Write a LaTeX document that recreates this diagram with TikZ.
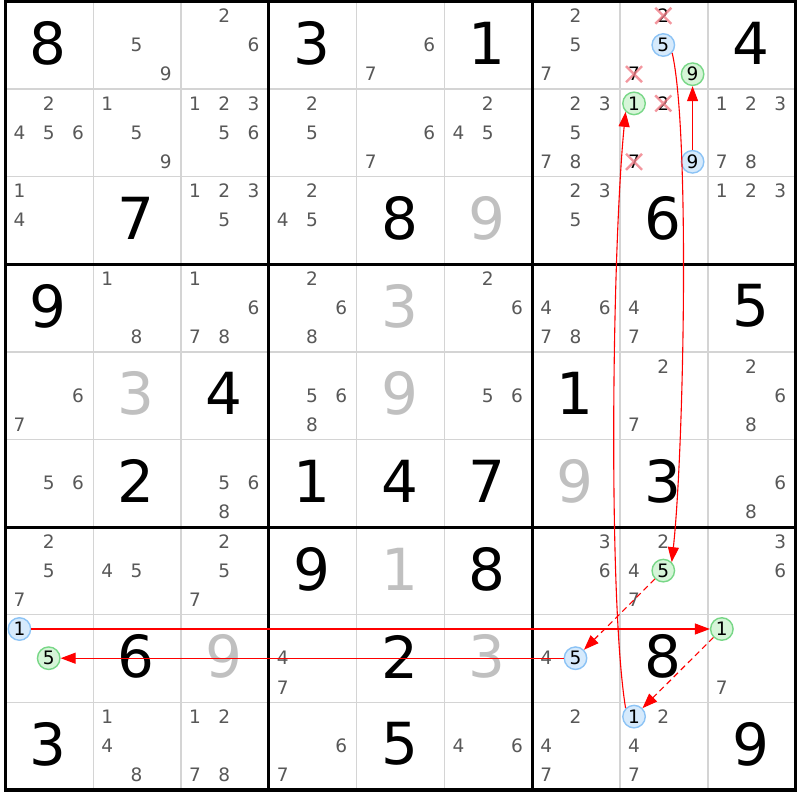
\documentclass[tikz,border=0pt]{standalone}
\usepackage{fontspec}
\setmainfont{DejaVu Sans}
\usetikzlibrary{arrows.meta}
\definecolor{candgray}{RGB}{88,88,88}
\definecolor{givgray}{RGB}{192,192,192}
\definecolor{thingray}{RGB}{212,212,212}
\definecolor{bfill}{RGB}{214,234,252}
\definecolor{bdraw}{RGB}{140,195,245}
\definecolor{gfill}{RGB}{214,245,216}
\definecolor{gdraw}{RGB}{120,215,135}
\definecolor{xred}{RGB}{240,125,135}
\def\GX{5.5}\def\GY{1.5}\def\GW{87.8}\def\GH{87.6}
\newcommand\candxy[3]{%
  \pgfmathtruncatemacro\ci{mod(#3-1,3)}%
  \pgfmathtruncatemacro\cj{(#3-1)/3}%
  \pgfmathsetmacro\px{\GX+(#2-1)*\GW+(\ci+0.5)*\GW/3-0.7}%
  \pgfmathsetmacro\py{\GY+(#1-1)*\GH+(\cj+0.5)*\GH/3-0.3}%
}
\tikzset{
  bigdigit/.style={inner sep=0pt, font=\fontsize{58}{58}\selectfont},
  cand/.style={inner sep=0pt, text=candgray, font=\fontsize{18.5}{18.5}\selectfont},
  bluec/.style={circle, draw=bdraw, fill=bfill, line width=1.4pt, minimum size=22.5pt, inner sep=0pt, text=black, font=\fontsize{18.5}{18.5}\selectfont},
  greenc/.style={circle, draw=gdraw, fill=gfill, line width=1.4pt, minimum size=22.5pt, inner sep=0pt, text=black, font=\fontsize{18.5}{18.5}\selectfont},
  xmark/.style={draw=xred, line width=2.4pt, opacity=0.8},
  arr/.style={draw=red, line width=1.1pt, -{Triangle[length=15pt,width=11pt]}},
  darr/.style={arr, dash pattern=on 6pt off 4pt},
  thinline/.style={draw=thingray, line width=1.4pt},
  thickline/.style={draw=black, line width=3pt}
}
\begin{document}
\begin{tikzpicture}[x=1pt,y=-1pt]
\useasboundingbox (0,0) rectangle (800,800);
\fill[white] (0,0) rectangle (800,800);
% thin grid
\foreach \k in {1,2,4,5,7,8}{
  \draw[thinline] ({\GX+\k*\GW},\GY) -- ({\GX+\k*\GW},{\GY+9*\GH});
  \draw[thinline] (\GX,{\GY+\k*\GH}) -- ({\GX+9*\GW},{\GY+\k*\GH});
}
\foreach \k in {3,6}{
  \draw[thickline] ({\GX+\k*\GW},\GY) -- ({\GX+\k*\GW},{\GY+9*\GH});
  \draw[thickline] (\GX,{\GY+\k*\GH}) -- ({\GX+9*\GW},{\GY+\k*\GH});
}
\draw[thickline, line width=3.5pt] (\GX,\GY) rectangle ({\GX+9*\GW},{\GY+9*\GH});
% big digits
\foreach \r/\c/\d/\col in {1/1/8/black,1/4/3/black,1/6/1/black,1/9/4/black,
  3/2/7/black,3/5/8/black,3/6/9/givgray,3/8/6/black,
  4/1/9/black,4/5/3/givgray,4/9/5/black,
  5/2/3/givgray,5/3/4/black,5/5/9/givgray,5/7/1/black,
  6/2/2/black,6/4/1/black,6/5/4/black,6/6/7/black,6/7/9/givgray,6/8/3/black,
  7/4/9/black,7/5/1/givgray,7/6/8/black,
  8/2/6/black,8/3/9/givgray,8/5/2/black,8/6/3/givgray,8/8/8/black,
  9/1/3/black,9/5/5/black,9/9/9/black}{
  \pgfmathsetmacro\px{\GX+(\c-0.5)*\GW-1}
  \pgfmathsetmacro\py{\GY+(\r-0.5)*\GH-2}
  \node[bigdigit, text=\col] (g\r\c) at (\px,\py) {\d};
}
% candidates
\foreach \r/\c/\ds in {1/2/{5,9},1/3/{2,6},1/5/{6,7},1/7/{2,5,7},
  2/1/{2,4,5,6},2/2/{1,5,9},2/3/{1,2,3,5,6},2/4/{2,5},2/5/{6,7},2/6/{2,4,5},2/7/{2,3,5,7,8},2/9/{1,2,3,7,8},
  3/1/{1,4},3/3/{1,2,3,5},3/4/{2,4,5},3/7/{2,3,5},3/9/{1,2,3},
  4/2/{1,8},4/3/{1,6,7,8},4/4/{2,6,8},4/6/{2,6},4/7/{4,6,7,8},4/8/{4,7},
  5/1/{6,7},5/4/{5,6,8},5/6/{5,6},5/8/{2,7},5/9/{2,6,8},
  6/1/{5,6},6/3/{5,6,8},6/9/{6,8},
  7/1/{2,5,7},7/2/{4,5},7/3/{2,5,7},7/7/{3,6},7/8/{2,4,7},7/9/{3,6},
  8/4/{4,7},8/7/{4},8/9/{7},
  9/2/{1,4,8},9/3/{1,2,7,8},9/4/{6,7},9/6/{4,6},9/7/{2,4,7},9/8/{2,4,7}}{
  \foreach \d in \ds {
    \candxy{\r}{\c}{\d}
    \node[cand] (c\r\c\d) at (\px,\py) {\d};
  }
}
% eliminated candidates
\foreach \r/\c/\d in {1/8/2,1/8/7,2/8/2,2/8/7}{
  \candxy{\r}{\c}{\d}
  \node[cand, text=black] (x\r\c\d) at (\px,\py) {\d};
  \draw[xmark] (x\r\c\d.center) ++(-8,-8) -- ++(16,16)
               (x\r\c\d.center) ++(8,-8) -- ++(-16,16);
}
% highlighted candidates
\foreach \r/\c/\d in {1/8/5,2/8/9,8/1/1,8/7/5,9/8/1}{
  \candxy{\r}{\c}{\d}
  \node[bluec] (b\r\c\d) at (\px,\py) {\d};
}
\foreach \r/\c/\d in {1/8/9,2/8/1,7/8/5,8/1/5,8/9/1}{
  \candxy{\r}{\c}{\d}
  \node[greenc] (h\r\c\d) at (\px,\py) {\d};
}
% chain
\draw[arr] (b289) -- (h189);
\draw[arr] (b185.-42) .. controls (690,130) and (684,450) .. (h785.45);
\draw[darr] (h785) -- (b875);
\draw[arr] (b875) -- (h815);
\draw[arr] (b811) -- (h891);
\draw[darr] (h891) -- (b981);
\draw[arr] (b981.135) .. controls (608,600) and (612,250) .. (h281.-135);
\end{tikzpicture}
\end{document}
